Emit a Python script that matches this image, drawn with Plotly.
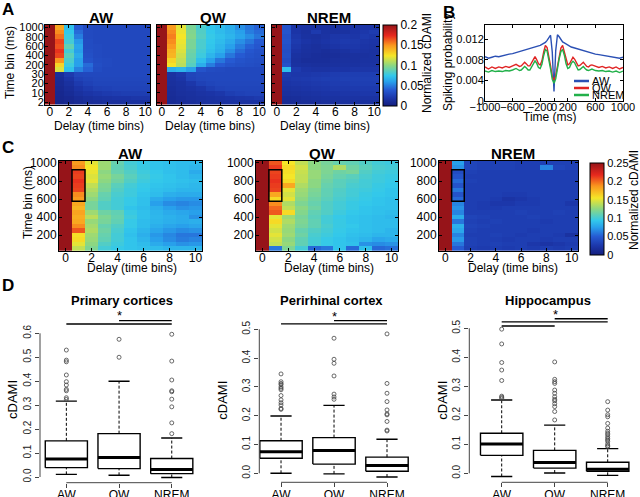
import plotly.graph_objects as go

W, H = 640, 497
def fx(p): return p / W
def fy(p): return 1 - p / H

FONT = "Liberation Sans, Arial, sans-serif"

# ---------------- data ----------------
delays = [0, 1, 2, 3, 4, 5, 6, 7, 8, 9, 10]
delay_ticks = [0, 2, 4, 6, 8, 10]

# Panel A (rows: time bins, bottom -> top)
A_time_bins = ['2', '5', '10', '15', '20', '25', '30', '100', '200', '300', '400',
               '500', '600', '700', '800', '900', '1000']
A_tick_labels = ['2', '10', '20', '30', '200', '400', '600', '800', '1000']
A_AW = [
    [0.25, 0.006, 0.008, 0.010, 0.012, 0.013, 0.014, 0.014, 0.015, 0.015, 0.015],
    [0.25, 0.007, 0.009, 0.012, 0.014, 0.016, 0.017, 0.018, 0.018, 0.019, 0.019],
    [0.25, 0.008, 0.011, 0.015, 0.018, 0.020, 0.022, 0.023, 0.024, 0.024, 0.024],
    [0.25, 0.009, 0.013, 0.018, 0.022, 0.025, 0.026, 0.027, 0.027, 0.027, 0.027],
    [0.25, 0.010, 0.015, 0.022, 0.026, 0.028, 0.028, 0.028, 0.028, 0.028, 0.028],
    [0.25, 0.011, 0.018, 0.026, 0.028, 0.029, 0.029, 0.029, 0.029, 0.029, 0.029],
    [0.25, 0.013, 0.022, 0.029, 0.030, 0.030, 0.030, 0.030, 0.030, 0.030, 0.030],
    [0.25, 0.118, 0.072, 0.052, 0.042, 0.032, 0.030, 0.030, 0.030, 0.030, 0.030],
    [0.25, 0.130, 0.078, 0.060, 0.045, 0.033, 0.031, 0.030, 0.030, 0.030, 0.030],
    [0.25, 0.150, 0.082, 0.060, 0.036, 0.032, 0.031, 0.030, 0.030, 0.030, 0.030],
    [0.25, 0.168, 0.086, 0.064, 0.034, 0.031, 0.030, 0.030, 0.030, 0.030, 0.030],
    [0.25, 0.172, 0.080, 0.060, 0.033, 0.031, 0.030, 0.030, 0.030, 0.030, 0.030],
    [0.25, 0.165, 0.088, 0.062, 0.032, 0.031, 0.030, 0.030, 0.030, 0.030, 0.030],
    [0.25, 0.168, 0.080, 0.058, 0.032, 0.030, 0.030, 0.030, 0.030, 0.030, 0.030],
    [0.25, 0.158, 0.078, 0.050, 0.031, 0.030, 0.030, 0.030, 0.030, 0.030, 0.030],
    [0.25, 0.152, 0.075, 0.045, 0.031, 0.030, 0.030, 0.030, 0.030, 0.030, 0.030],
    [0.25, 0.145, 0.072, 0.040, 0.031, 0.030, 0.030, 0.030, 0.030, 0.030, 0.030],
]
A_QW = [
    [0.25, 0.010, 0.012, 0.013, 0.014, 0.015, 0.015, 0.016, 0.016, 0.016, 0.016],
    [0.25, 0.011, 0.013, 0.014, 0.015, 0.016, 0.017, 0.018, 0.019, 0.020, 0.022],
    [0.25, 0.012, 0.014, 0.015, 0.017, 0.018, 0.020, 0.024, 0.026, 0.027, 0.027],
    [0.25, 0.013, 0.015, 0.017, 0.019, 0.024, 0.027, 0.028, 0.028, 0.028, 0.028],
    [0.25, 0.014, 0.016, 0.020, 0.026, 0.028, 0.029, 0.029, 0.029, 0.029, 0.029],
    [0.25, 0.015, 0.018, 0.027, 0.029, 0.030, 0.030, 0.030, 0.030, 0.030, 0.030],
    [0.25, 0.016, 0.020, 0.028, 0.030, 0.030, 0.030, 0.030, 0.030, 0.030, 0.030],
    [0.25, 0.065, 0.068, 0.060, 0.036, 0.032, 0.031, 0.030, 0.030, 0.030, 0.030],
    [0.25, 0.125, 0.110, 0.085, 0.065, 0.050, 0.040, 0.036, 0.034, 0.033, 0.032],
    [0.25, 0.130, 0.112, 0.088, 0.072, 0.060, 0.048, 0.040, 0.036, 0.034, 0.033],
    [0.25, 0.140, 0.115, 0.090, 0.078, 0.068, 0.060, 0.048, 0.040, 0.036, 0.034],
    [0.25, 0.142, 0.118, 0.092, 0.080, 0.072, 0.066, 0.055, 0.045, 0.038, 0.035],
    [0.25, 0.148, 0.120, 0.095, 0.082, 0.074, 0.068, 0.060, 0.050, 0.042, 0.038],
    [0.25, 0.152, 0.122, 0.095, 0.082, 0.075, 0.070, 0.064, 0.055, 0.048, 0.040],
    [0.25, 0.155, 0.124, 0.098, 0.085, 0.076, 0.072, 0.068, 0.062, 0.055, 0.048],
    [0.25, 0.152, 0.122, 0.097, 0.084, 0.075, 0.070, 0.066, 0.060, 0.050, 0.045],
    [0.25, 0.148, 0.120, 0.095, 0.082, 0.074, 0.070, 0.065, 0.055, 0.048, 0.042],
]
A_NREM = [
    [0.25, 0.010, 0.011, 0.012, 0.013, 0.014, 0.014, 0.015, 0.015, 0.015, 0.015],
    [0.25, 0.012, 0.013, 0.014, 0.015, 0.016, 0.016, 0.017, 0.017, 0.017, 0.017],
    [0.25, 0.014, 0.015, 0.016, 0.017, 0.018, 0.018, 0.019, 0.019, 0.020, 0.020],
    [0.25, 0.016, 0.017, 0.018, 0.019, 0.020, 0.021, 0.021, 0.022, 0.022, 0.022],
    [0.25, 0.018, 0.019, 0.020, 0.021, 0.022, 0.023, 0.023, 0.024, 0.024, 0.024],
    [0.25, 0.020, 0.021, 0.022, 0.023, 0.024, 0.024, 0.025, 0.025, 0.025, 0.025],
    [0.25, 0.022, 0.020, 0.020, 0.021, 0.022, 0.023, 0.024, 0.024, 0.024, 0.024],
    [0.25, 0.072, 0.022, 0.018, 0.017, 0.017, 0.018, 0.018, 0.019, 0.019, 0.019],
    [0.25, 0.035, 0.016, 0.015, 0.014, 0.014, 0.015, 0.016, 0.016, 0.017, 0.017],
    [0.25, 0.032, 0.015, 0.013, 0.013, 0.013, 0.014, 0.015, 0.015, 0.016, 0.016],
    [0.25, 0.034, 0.016, 0.014, 0.013, 0.012, 0.013, 0.014, 0.015, 0.015, 0.016],
    [0.25, 0.033, 0.018, 0.015, 0.014, 0.013, 0.014, 0.016, 0.018, 0.017, 0.016],
    [0.25, 0.034, 0.020, 0.016, 0.014, 0.016, 0.018, 0.020, 0.020, 0.018, 0.017],
    [0.25, 0.036, 0.022, 0.018, 0.016, 0.018, 0.020, 0.022, 0.021, 0.019, 0.018],
    [0.25, 0.035, 0.020, 0.016, 0.015, 0.017, 0.019, 0.020, 0.019, 0.022, 0.020],
    [0.25, 0.037, 0.018, 0.015, 0.022, 0.016, 0.015, 0.016, 0.018, 0.020, 0.023],
    [0.25, 0.036, 0.018, 0.017, 0.016, 0.015, 0.016, 0.018, 0.017, 0.018, 0.018],
]
A_cbar_ticks = [0, 0.05, 0.1, 0.15, 0.2]
A_cbar_text = ['0', '0.05', '0.1', '0.15', '0.2']

# Panel B
B_time = [-1000, -950, -900, -850, -800, -750, -700, -650, -600, -550,
          -525, -500, -475, -450, -425, -400, -375, -350, -325, -300, -275, -250,
          -225, -200, -175, -150, -125, -100, -75, -50, -25, 0, 25, 50, 75, 100,
          125, 150, 175, 200, 225, 250, 275, 300, 325, 350, 375, 400, 425, 450,
          475, 500, 525,
          550, 600, 650, 700, 750, 800, 850, 900, 950, 1000]
B_AW = [0.0086, 0.0083, 0.0085, 0.0087, 0.0086, 0.0088, 0.0090, 0.0091, 0.0092, 0.0094,
        0.0095, 0.0095, 0.0096, 0.0097, 0.0098, 0.0099, 0.0100, 0.0101, 0.0102, 0.0103,
        0.0104, 0.0105, 0.0106, 0.0108, 0.0110, 0.0112, 0.0114, 0.0118, 0.0123, 0.0128,
        0.0095, 0.0018, 0.0098, 0.0129, 0.0125, 0.0119, 0.0115, 0.0113, 0.0111, 0.0109,
        0.0106, 0.0105, 0.0104, 0.0103, 0.0102, 0.0100, 0.0099, 0.0098, 0.0097, 0.0096,
        0.0095, 0.0094, 0.0093,
        0.0093, 0.0091, 0.0090, 0.0089, 0.0088, 0.0087, 0.0086, 0.0085, 0.0083, 0.0085]
B_QW = [0.0066, 0.0062, 0.0066, 0.0063, 0.0066, 0.0064, 0.0067, 0.0065, 0.0068, 0.0071,
        0.0069, 0.0067, 0.0068, 0.0072, 0.0075, 0.0072, 0.0068, 0.0068, 0.0074, 0.0082,
        0.0086, 0.0080, 0.0072, 0.0070, 0.0078, 0.0095, 0.0108, 0.0104, 0.0088, 0.0068,
        0.0047, 0.0040, 0.0049, 0.0070, 0.0088, 0.0103, 0.0108, 0.0096, 0.0079, 0.0070,
        0.0072, 0.0080, 0.0085, 0.0081, 0.0074, 0.0068, 0.0069, 0.0073, 0.0075, 0.0071,
        0.0067, 0.0066, 0.0069,
        0.0070, 0.0067, 0.0065, 0.0067, 0.0064, 0.0066, 0.0063, 0.0066, 0.0062, 0.0065]
B_NREM = [0.0058, 0.0056, 0.0059, 0.0057, 0.0058, 0.0057, 0.0059, 0.0058, 0.0060, 0.0063,
          0.0061, 0.0059, 0.0060, 0.0064, 0.0067, 0.0064, 0.0060, 0.0060, 0.0066, 0.0074,
          0.0078, 0.0073, 0.0065, 0.0063, 0.0071, 0.0088, 0.0100, 0.0097, 0.0082, 0.0062,
          0.0042, 0.0034, 0.0043, 0.0064, 0.0082, 0.0096, 0.0100, 0.0089, 0.0072, 0.0063,
          0.0065, 0.0073, 0.0077, 0.0074, 0.0066, 0.0060, 0.0061, 0.0065, 0.0067, 0.0063,
          0.0060, 0.0059, 0.0061,
          0.0062, 0.0059, 0.0058, 0.0059, 0.0057, 0.0058, 0.0056, 0.0058, 0.0055, 0.0058]
B_xticks = [-1000, -600, -200, 0, 200, 600, 1000]
B_yticks = [0, 0.004, 0.008, 0.012]
B_ytext = ['0', '0.004', '0.008', '0.012']
B_series = ['AW', 'QW', 'NREM']
B_colors = ['#2b50b4', '#e02424', '#22b04a']

# Panel C (rows: 50 .. 1000 ms, bottom -> top)
C_time_bins = [50, 100, 150, 200, 250, 300, 350, 400, 450, 500, 550, 600, 650,
               700, 750, 800, 850, 900, 950, 1000]
C_ticks = [200, 400, 600, 800, 1000]
C_AW = [
    [0.30, 0.140, 0.120, 0.100, 0.095, 0.092, 0.090, 0.088, 0.085, 0.085, 0.085],
    [0.30, 0.150, 0.125, 0.105, 0.098, 0.092, 0.088, 0.080, 0.075, 0.070, 0.072],
    [0.30, 0.160, 0.128, 0.110, 0.100, 0.092, 0.085, 0.075, 0.068, 0.062, 0.065],
    [0.30, 0.158, 0.130, 0.112, 0.100, 0.090, 0.082, 0.072, 0.066, 0.060, 0.060],
    [0.30, 0.205, 0.135, 0.115, 0.102, 0.092, 0.085, 0.078, 0.072, 0.068, 0.070],
    [0.30, 0.190, 0.132, 0.112, 0.105, 0.095, 0.088, 0.082, 0.078, 0.075, 0.078],
    [0.30, 0.180, 0.128, 0.118, 0.110, 0.095, 0.088, 0.085, 0.082, 0.080, 0.082],
    [0.30, 0.178, 0.138, 0.120, 0.112, 0.098, 0.090, 0.086, 0.083, 0.080, 0.070],
    [0.30, 0.182, 0.130, 0.115, 0.110, 0.096, 0.090, 0.085, 0.080, 0.078, 0.075],
    [0.30, 0.175, 0.118, 0.105, 0.100, 0.092, 0.088, 0.082, 0.075, 0.070, 0.072],
    [0.30, 0.180, 0.118, 0.105, 0.100, 0.095, 0.090, 0.075, 0.068, 0.065, 0.068],
    [0.30, 0.185, 0.125, 0.110, 0.100, 0.095, 0.090, 0.080, 0.075, 0.072, 0.072],
    [0.30, 0.190, 0.130, 0.112, 0.102, 0.098, 0.092, 0.088, 0.082, 0.080, 0.080],
    [0.30, 0.210, 0.135, 0.118, 0.105, 0.098, 0.094, 0.090, 0.088, 0.085, 0.085],
    [0.30, 0.212, 0.140, 0.120, 0.108, 0.100, 0.095, 0.092, 0.090, 0.088, 0.086],
    [0.30, 0.215, 0.150, 0.125, 0.115, 0.105, 0.098, 0.094, 0.092, 0.090, 0.088],
    [0.30, 0.210, 0.148, 0.128, 0.118, 0.108, 0.100, 0.095, 0.092, 0.088, 0.085],
    [0.30, 0.212, 0.152, 0.125, 0.112, 0.105, 0.098, 0.094, 0.090, 0.088, 0.080],
    [0.30, 0.190, 0.155, 0.130, 0.110, 0.102, 0.096, 0.092, 0.090, 0.088, 0.086],
    [0.30, 0.185, 0.150, 0.130, 0.112, 0.100, 0.095, 0.092, 0.090, 0.088, 0.088],
]
C_QW = [
    [0.30, 0.060, 0.120, 0.100, 0.055, 0.060, 0.092, 0.055, 0.090, 0.055, 0.058],
    [0.30, 0.140, 0.128, 0.110, 0.100, 0.095, 0.092, 0.090, 0.070, 0.068, 0.070],
    [0.30, 0.145, 0.125, 0.110, 0.100, 0.095, 0.092, 0.088, 0.085, 0.078, 0.080],
    [0.30, 0.150, 0.130, 0.115, 0.102, 0.098, 0.094, 0.090, 0.088, 0.085, 0.085],
    [0.30, 0.145, 0.128, 0.112, 0.105, 0.100, 0.095, 0.092, 0.090, 0.088, 0.085],
    [0.30, 0.150, 0.130, 0.118, 0.110, 0.102, 0.096, 0.094, 0.090, 0.088, 0.088],
    [0.30, 0.160, 0.135, 0.120, 0.110, 0.100, 0.096, 0.092, 0.090, 0.088, 0.088],
    [0.30, 0.150, 0.130, 0.118, 0.108, 0.100, 0.095, 0.092, 0.090, 0.088, 0.086],
    [0.30, 0.205, 0.160, 0.122, 0.110, 0.105, 0.098, 0.094, 0.092, 0.090, 0.088],
    [0.30, 0.200, 0.140, 0.125, 0.115, 0.105, 0.100, 0.096, 0.092, 0.090, 0.090],
    [0.30, 0.190, 0.135, 0.120, 0.112, 0.105, 0.100, 0.096, 0.094, 0.092, 0.090],
    [0.30, 0.160, 0.150, 0.125, 0.115, 0.108, 0.102, 0.098, 0.095, 0.092, 0.090],
    [0.30, 0.180, 0.145, 0.128, 0.118, 0.110, 0.104, 0.100, 0.096, 0.094, 0.092],
    [0.30, 0.210, 0.150, 0.130, 0.120, 0.110, 0.105, 0.100, 0.098, 0.095, 0.092],
    [0.30, 0.212, 0.180, 0.135, 0.125, 0.112, 0.108, 0.102, 0.100, 0.096, 0.094],
    [0.30, 0.215, 0.160, 0.140, 0.125, 0.115, 0.108, 0.105, 0.100, 0.098, 0.095],
    [0.30, 0.212, 0.155, 0.140, 0.128, 0.118, 0.112, 0.108, 0.102, 0.098, 0.096],
    [0.30, 0.210, 0.158, 0.142, 0.128, 0.120, 0.115, 0.118, 0.105, 0.100, 0.098],
    [0.30, 0.212, 0.160, 0.145, 0.125, 0.120, 0.135, 0.115, 0.108, 0.102, 0.100],
    [0.30, 0.205, 0.155, 0.140, 0.125, 0.118, 0.112, 0.110, 0.105, 0.100, 0.098],
]
C_NREM = [
    [0.30, 0.050, 0.030, 0.028, 0.030, 0.028, 0.030, 0.028, 0.030, 0.028, 0.030],
    [0.30, 0.060, 0.032, 0.030, 0.032, 0.030, 0.030, 0.025, 0.022, 0.025, 0.028],
    [0.30, 0.072, 0.032, 0.030, 0.030, 0.028, 0.030, 0.030, 0.028, 0.030, 0.030],
    [0.30, 0.065, 0.030, 0.030, 0.032, 0.030, 0.028, 0.030, 0.030, 0.028, 0.020],
    [0.30, 0.078, 0.032, 0.030, 0.030, 0.030, 0.030, 0.028, 0.030, 0.030, 0.030],
    [0.30, 0.082, 0.034, 0.032, 0.030, 0.030, 0.030, 0.030, 0.030, 0.030, 0.030],
    [0.30, 0.060, 0.032, 0.030, 0.032, 0.030, 0.030, 0.030, 0.028, 0.030, 0.030],
    [0.30, 0.080, 0.034, 0.032, 0.030, 0.030, 0.030, 0.032, 0.030, 0.030, 0.030],
    [0.30, 0.065, 0.030, 0.030, 0.030, 0.030, 0.032, 0.030, 0.030, 0.032, 0.030],
    [0.30, 0.070, 0.030, 0.028, 0.028, 0.030, 0.030, 0.030, 0.030, 0.030, 0.030],
    [0.30, 0.065, 0.030, 0.028, 0.025, 0.025, 0.028, 0.028, 0.030, 0.030, 0.025],
    [0.30, 0.055, 0.030, 0.030, 0.028, 0.022, 0.025, 0.028, 0.030, 0.030, 0.030],
    [0.30, 0.045, 0.030, 0.030, 0.030, 0.028, 0.028, 0.030, 0.030, 0.030, 0.030],
    [0.30, 0.060, 0.030, 0.030, 0.030, 0.030, 0.030, 0.030, 0.030, 0.030, 0.030],
    [0.30, 0.045, 0.030, 0.030, 0.030, 0.030, 0.030, 0.030, 0.030, 0.030, 0.030],
    [0.30, 0.055, 0.032, 0.030, 0.030, 0.030, 0.030, 0.030, 0.030, 0.030, 0.030],
    [0.30, 0.045, 0.030, 0.030, 0.030, 0.030, 0.030, 0.030, 0.030, 0.030, 0.030],
    [0.30, 0.040, 0.032, 0.030, 0.030, 0.030, 0.030, 0.030, 0.030, 0.030, 0.030],
    [0.30, 0.070, 0.035, 0.032, 0.032, 0.032, 0.030, 0.030, 0.065, 0.035, 0.032],
    [0.30, 0.075, 0.035, 0.032, 0.032, 0.032, 0.030, 0.030, 0.032, 0.032, 0.032],
]
C_window_delay = 1
C_window_bins = [600, 900]
C_cbar_ticks = [0, 0.05, 0.1, 0.15, 0.2, 0.25]
C_cbar_text = ['0', '0.05', '0.1', '0.15', '0.2', '0.25']

# Panel D (box statistics per state: AW, QW, NREM)
D_groups = ['AW', 'QW', 'NREM']
prim_whislo = [0.011, 0.007, -0.002]
prim_q1 = [0.039, 0.035, 0.014]
prim_med = [0.075, 0.081, 0.031]
prim_q3 = [0.151, 0.181, 0.077]
prim_whishi = [0.317, 0.400, 0.163]
prim_out = [[0.530, 0.488, 0.481, 0.426, 0.398, 0.384, 0.366, 0.360, 0.331, 0.324],
            [0.575, 0.500],
            [0.596, 0.484, 0.405, 0.360, 0.356, 0.325, 0.293, 0.226, 0.181]]
prim_sig = [[1, 3, 0.639], [2, 3, 0.653]]
prim_star = [2, 0.676]
prim_yticks = [0, 0.1, 0.2, 0.3, 0.4, 0.5, 0.6]

peri_whislo = [0.000, -0.002, -0.013]
peri_q1 = [0.052, 0.032, 0.007]
peri_med = [0.075, 0.079, 0.027]
peri_q3 = [0.113, 0.124, 0.056]
peri_whishi = [0.199, 0.236, 0.118]
peri_out = [[0.345, 0.318, 0.312, 0.308, 0.300, 0.295, 0.290, 0.270, 0.255, 0.245, 0.237, 0.225, 0.222],
            [0.469, 0.396, 0.382, 0.338, 0.275, 0.265, 0.257],
            [0.484, 0.312, 0.278, 0.249, 0.220, 0.206, 0.203, 0.180, 0.150, 0.147]]
peri_sig = [[1, 3, 0.519], [2, 3, 0.530]]
peri_star = [2, 0.546]
peri_yticks = [0, 0.1, 0.2, 0.3, 0.4, 0.5]

hipp_whislo = [-0.011, 0.001, -0.007]
hipp_q1 = [0.062, 0.018, 0.007]
hipp_med = [0.101, 0.037, 0.014]
hipp_q3 = [0.138, 0.079, 0.038]
hipp_whishi = [0.253, 0.166, 0.085]
hipp_out = [[0.497, 0.446, 0.382, 0.356, 0.320, 0.266, 0.262, 0.258],
            [0.384, 0.324, 0.316, 0.310, 0.287, 0.276, 0.264, 0.255, 0.250, 0.240, 0.230, 0.213, 0.184],
            [0.247, 0.218, 0.202, 0.195, 0.172, 0.156, 0.145, 0.138, 0.133, 0.126, 0.120, 0.115,
             0.110, 0.101, 0.095, 0.092]]
hipp_sig = [[1, 2, 0.508], [1, 3, 0.522], [2, 3, 0.533]]
hipp_star = [2.02, 0.549]
hipp_yticks = [0, 0.1, 0.2, 0.3, 0.4, 0.5]

# ---------------- styling ----------------
JET = [
    [0.0, 'rgb(20,30,125)'],
    [0.1, 'rgb(28,55,170)'],
    [0.2, 'rgb(38,90,210)'],
    [0.3, 'rgb(40,160,235)'],
    [0.375, 'rgb(50,200,235)'],
    [0.5, 'rgb(140,215,130)'],
    [0.62, 'rgb(245,230,40)'],
    [0.75, 'rgb(250,150,30)'],
    [0.87, 'rgb(230,40,30)'],
    [1.0, 'rgb(150,20,25)'],
]

fig = go.Figure()

# Panel A heatmaps
for z, n in [(A_AW, ''), (A_QW, '2'), (A_NREM, '3')]:
    fig.add_trace(go.Heatmap(z=z, x=delays, y=A_time_bins, coloraxis='coloraxis',
                             xaxis='x' + n, yaxis='y' + n, hoverinfo='skip'))

# Panel B lines
for vals, col in zip([B_AW, B_QW, B_NREM], B_colors):
    fig.add_trace(go.Scatter(x=B_time, y=vals, mode='lines', line=dict(color=col, width=1.4),
                             xaxis='x4', yaxis='y4', showlegend=False, hoverinfo='skip'))

# Panel C heatmaps
for z, n in [(C_AW, '5'), (C_QW, '6'), (C_NREM, '7')]:
    fig.add_trace(go.Heatmap(z=z, x=delays, y=C_time_bins, coloraxis='coloraxis2',
                             xaxis='x' + n, yaxis='y' + n, hoverinfo='skip'))

# Panel D boxplots
def add_boxes(n, lo, q1, med, q3, hi, outs, sig, star):
    xa, ya = 'x' + n, 'y' + n
    w = 0.4
    for i in range(len(D_groups)):
        c = i + 1
        kw = dict(xaxis=xa, yaxis=ya, showlegend=False, hoverinfo='skip', mode='lines')
        fig.add_trace(go.Scatter(x=[c, c], y=[q3[i], hi[i]], line=dict(color='black', width=1, dash='3px,2px'), **kw))
        fig.add_trace(go.Scatter(x=[c, c], y=[lo[i], q1[i]], line=dict(color='black', width=1, dash='3px,2px'), **kw))
        fig.add_trace(go.Scatter(x=[c - w / 2, c + w / 2], y=[hi[i], hi[i]], line=dict(color='black', width=1.4), **kw))
        fig.add_trace(go.Scatter(x=[c - w / 2, c + w / 2], y=[lo[i], lo[i]], line=dict(color='black', width=1.4), **kw))
        fig.add_trace(go.Scatter(x=[c - w, c + w, c + w, c - w, c - w],
                                 y=[q1[i], q1[i], q3[i], q3[i], q1[i]],
                                 line=dict(color='black', width=1.4), **kw))
        fig.add_trace(go.Scatter(x=[c - w, c + w], y=[med[i], med[i]], line=dict(color='black', width=3), **kw))
        fig.add_trace(go.Scatter(x=[c] * len(outs[i]), y=outs[i], mode='markers',
                                 marker=dict(symbol='circle-open', size=4, color='#444', line=dict(width=0.8)),
                                 xaxis=xa, yaxis=ya, showlegend=False, hoverinfo='skip'))
    for a, b, h in sig:
        fig.add_trace(go.Scatter(x=[a, b], y=[h, h], mode='lines', line=dict(color='black', width=1.4),
                                 xaxis=xa, yaxis=ya, showlegend=False, hoverinfo='skip', cliponaxis=False))
    return dict(x=star[0], y=star[1], xref=xa, yref=ya, text='*', showarrow=False,
                font=dict(size=13, color='black'))

stars = [
    add_boxes('8', prim_whislo, prim_q1, prim_med, prim_q3, prim_whishi, prim_out, prim_sig, prim_star),
    add_boxes('9', peri_whislo, peri_q1, peri_med, peri_q3, peri_whishi, peri_out, peri_sig, peri_star),
    add_boxes('10', hipp_whislo, hipp_q1, hipp_med, hipp_q3, hipp_whishi, hipp_out, hipp_sig, hipp_star),
]

# ---------------- layout ----------------
def box_axis(dom, anchor, **extra):
    d = dict(domain=dom, anchor=anchor, showline=True, mirror='ticks', linecolor='black',
             linewidth=1, ticks='inside', ticklen=3, tickcolor='black', showgrid=False,
             zeroline=False, tickfont=dict(size=12, color='black'))
    d.update(extra)
    return d

lay = dict(width=W, height=H, margin=dict(l=0, r=0, t=0, b=0, autoexpand=False),
           paper_bgcolor='white', plot_bgcolor='white',
           font=dict(family=FONT, size=12, color='black'), showlegend=False)

A_ydom = [fy(104.5), fy(25)]
for n, (x0, x1) in zip(['', '2', '3'], [(45, 150), (157, 264), (272, 379)]):
    lay['xaxis' + n] = box_axis([fx(x0), fx(x1)], 'y' + n, range=[-0.5, 10.5], tickvals=delay_ticks,
                                ticklabelstandoff=-4)
    lay['yaxis' + n] = box_axis(A_ydom, 'x' + n, type='category', tickmode='array',
                                tickvals=A_tick_labels, showticklabels=(n == ''),
                                tickfont=dict(size=11, color='black'), ticklabelstandoff=-2)

lay['xaxis4'] = box_axis([fx(485), fx(623)], 'y4', range=[-1000, 1000], tickvals=B_xticks,
                         tickangle=0, tickfont=dict(size=11, color='black'), ticklabelstandoff=-4)
lay['yaxis4'] = box_axis([fy(100.7), fy(25)], 'x4', range=[0, 0.0148], tickvals=B_yticks,
                         ticktext=B_ytext, tickfont=dict(size=11, color='black'), ticklabelstandoff=-2)

C_ydom = [fy(251), fy(160.7)]
for n, (x0, x1) in zip(['5', '6', '7'], [(59, 202), (256, 398), (439, 578)]):
    lay['xaxis' + n] = box_axis([fx(x0), fx(x1)], 'y' + n, range=[-0.5, 10.5], tickvals=delay_ticks,
                                ticklabelstandoff=-4)
    lay['yaxis' + n] = box_axis(C_ydom, 'x' + n, range=[25, 1025], tickvals=C_ticks,
                                ticklabelstandoff=-1)

# D axes: (x px domain, x range, y px domain, y range)
D_specs = [
    ('8', (40, 198.1), (0.5, 3.5), (305, 482.7), (-0.0238, 0.7182), prim_yticks),
    ('9', (259.3, 413.5), (0.59, 3.5), (305, 482.3), (-0.03125, 0.5844), peri_yticks),
    ('10', (469.3, 634.2), (0.389, 3.5), (305, 482.3), (-0.031, 0.5803), hipp_yticks),
]
shapes = []
for n, xd, xr, yd, yr, yt in D_specs:
    lay['xaxis' + n] = dict(domain=[fx(xd[0]), fx(xd[1])], anchor='y' + n, range=list(xr),
                            tickvals=[1, 2, 3], ticktext=D_groups, ticks='outside', ticklen=4,
                            tickcolor='#444', showline=False, showgrid=False, zeroline=False,
                            tickfont=dict(size=12, color='black'), ticklabelstandoff=-3)
    lay['yaxis' + n] = dict(domain=[fy(yd[1]), fy(yd[0])], anchor='x' + n, range=list(yr),
                            tickvals=yt, ticktext=['%.1f' % v for v in yt], ticks='outside',
                            ticklen=4, tickcolor='#444', tickangle=-90, showline=False,
                            showgrid=False, zeroline=False, tickfont=dict(size=10, color='#222'))
    shapes.append(dict(type='line', xref='x' + n + ' domain', x0=0, x1=0, yref='y' + n,
                       y0=min(yt), y1=max(yt), line=dict(color='#444', width=1)))
    shapes.append(dict(type='line', xref='x' + n, x0=1, x1=len(D_groups), yref='y' + n + ' domain',
                       y0=0, y1=0, line=dict(color='#444', width=1)))

# C highlight rectangles
half = (C_time_bins[1] - C_time_bins[0]) / 2
for n in ['5', '6', '7']:
    shapes.append(dict(type='rect', xref='x' + n, yref='y' + n,
                       x0=C_window_delay - 0.5, x1=C_window_delay + 0.5,
                       y0=C_window_bins[0] - half, y1=C_window_bins[1] + half,
                       line=dict(color='black', width=1.5)))

# B manual legend
leg_y = [81, 88, 95]
for name, col, yy in zip(B_series, B_colors, leg_y):
    shapes.append(dict(type='line', xref='paper', yref='paper', x0=fx(574), x1=fx(589),
                       y0=fy(yy), y1=fy(yy), line=dict(color=col, width=2.5)))

lay['shapes'] = shapes

lay['coloraxis'] = dict(colorscale=JET, cmin=0, cmax=0.2,
                        colorbar=dict(x=fx(383), xanchor='left', y=fy(65.5), yanchor='middle',
                                      len=81 / H, lenmode='fraction', thickness=14,
                                      thicknessmode='pixels', outlinewidth=1, outlinecolor='black',
                                      tickvals=A_cbar_ticks, ticktext=A_cbar_text, ticks='',
                                      tickfont=dict(size=12, color='black'), xpad=0, ypad=0))
lay['coloraxis2'] = dict(colorscale=JET, cmin=0, cmax=0.25,
                         colorbar=dict(x=fx(590), xanchor='left', y=fy(209), yanchor='middle',
                                       len=92 / H, lenmode='fraction', thickness=14,
                                       thicknessmode='pixels', outlinewidth=1, outlinecolor='black',
                                       tickvals=C_cbar_ticks, ticktext=C_cbar_text, ticks='',
                                       tickfont=dict(size=11, color='black'), xpad=0, ypad=0))

def ann(text, x, y, size=12, bold=False, angle=0, xanchor='center', color='black'):
    return dict(text=('<b>%s</b>' % text) if bold else text, x=fx(x), y=fy(y), xref='paper',
                yref='paper', showarrow=False, textangle=angle, xanchor=xanchor, yanchor='middle',
                font=dict(size=size, color=color, family=FONT))

anns = [
    ann('A', 8, 9, 17, True), ann('B', 449, 13, 17, True), ann('C', 8, 147, 17, True),
    ann('D', 8, 285, 17, True),
    ann('AW', 101.7, 17, 15, True), ann('QW', 213, 17, 15, True), ann('NREM', 329, 17, 15, True),
    ann('Delay (time bins)', 99, 126, 12), ann('Delay (time bins)', 210, 126, 12),
    ann('Delay (time bins)', 325, 126, 12),
    ann('Time bin (ms)', 10, 63, 12, angle=-90),
    ann('Normalized cDAMI', 427, 63, 12, angle=-90),
    ann('Spiking probability', 448, 63, 12, angle=-90),
    ann('Time (ms)', 550, 117, 12),
    ann('AW', 130, 153, 15, True), ann('QW', 322.7, 153, 15, True), ann('NREM', 513, 153, 15, True),
    ann('Delay (time bins)', 131.7, 268, 12), ann('Delay (time bins)', 329, 268, 12),
    ann('Delay (time bins)', 513, 268, 12),
    ann('Time bin (ms)', 28, 203, 12, angle=-90),
    ann('Normalized cDAMI', 634, 200, 12, angle=-90),
    ann('Primary cortices', 122, 300, 13, True), ann('Perirhinal cortex', 331, 300, 13, True),
    ann('Hippocampus', 548, 300, 13, True),
    ann('cDAMI', 12, 400, 13, angle=-90), ann('cDAMI', 221.7, 400, 13, angle=-90),
    ann('cDAMI', 441.7, 400, 13, angle=-90),
]
for name, yy in zip(B_series, leg_y):
    anns.append(ann(name, 590, yy, 11, xanchor='left'))
anns.extend(stars)
lay['annotations'] = anns

fig.update_layout(**lay)
fig.write_html("out.html", config={'displayModeBar': False},
               post_script="document.body.style.margin='0';document.body.style.overflow='hidden';")
